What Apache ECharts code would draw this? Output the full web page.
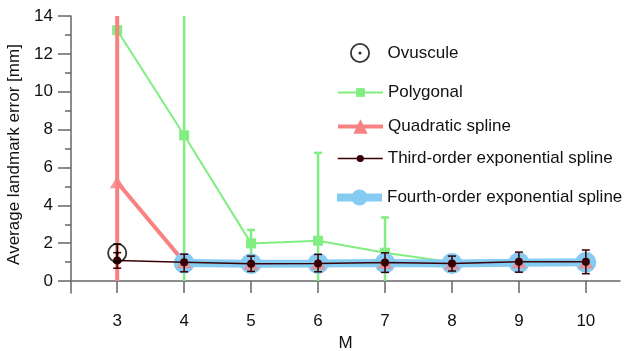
<!DOCTYPE html>
<html>
<head>
<meta charset="utf-8">
<script src="https://cdn.jsdelivr.net/npm/echarts@6/dist/echarts.min.js"></script>
<style>
  html, body { margin: 0; padding: 0; background: #fff; }
  #chart { width: 628px; height: 351px; }
</style>
</head>
<body>
<div id="chart"></div>
<script>
// M values on the x axis
var mValues = [3, 4, 5, 6, 7, 8, 9, 10];
var yMajorTicks = [0, 2, 4, 6, 8, 10, 12, 14];
var yMinorTicks = [1, 3, 5, 7, 9, 11, 13];

// Ovuscule: only M = 3
var ovusculeM = [3];
var ovusculeMean = [1.48];
var ovusculeLow = [1.0];
var ovusculeHigh = [1.95];

var polygonalMean = [13.25, 7.7, 1.99, 2.13, 1.5, 1.0, 1.02, 1.02];
var polygonalLow = [0, 0, 1.3, 0, 0, 0.65, 0.66, 0.66];
var polygonalHigh = [14, 14, 2.7, 6.77, 3.36, 1.35, 1.38, 1.38];

var quadraticMean = [5.22, 1.0, 0.91, 0.93, 0.97, 0.93, 0.99, 0.98];
var quadraticLow = [0, 0.62, 0.55, 0.56, 0.6, 0.57, 0.62, 0.62];
var quadraticHigh = [14, 1.38, 1.27, 1.3, 1.34, 1.29, 1.36, 1.34];

var thirdMean = [1.08, 0.99, 0.91, 0.93, 0.98, 0.93, 1.02, 1.02];
var thirdLow = [0.68, 0.49, 0.51, 0.49, 0.46, 0.53, 0.47, 0.39];
var thirdHigh = [1.5, 1.42, 1.32, 1.41, 1.49, 1.32, 1.53, 1.64];

// fourth order starts at M = 4
var fourthMean = [null, 0.95, 0.92, 0.93, 0.95, 0.93, 0.97, 0.99];

var Y_MIN = -0.63, Y_MAX = 14;
var FONT = "Liberation Sans, Arial, Helvetica, sans-serif";

var green = "#80ee80";
var red = "#f88282";
var blue = "#86cbf2";
var brown = "#380004";

function pairs(xs, ys) {
  var out = [];
  for (var i = 0; i < xs.length; i++) out.push([xs[i], ys[i]]);
  return out;
}
function triples(xs, lo, hi) {
  var out = [];
  for (var i = 0; i < xs.length; i++) out.push([xs[i], lo[i], hi[i]]);
  return out;
}

// vertical error bars, clipped to [0, 14]; caps only at ends that are not clipped
function errorBars(color, width, capW) {
  return function (params, api) {
    var x = api.value(0), lo = api.value(1), hi = api.value(2);
    var lo2 = Math.max(lo, 0), hi2 = Math.min(hi, 14);
    var p1 = api.coord([x, lo2]);
    var p2 = api.coord([x, hi2]);
    var st = { stroke: color, lineWidth: width };
    var kids = [{ type: "line", shape: { x1: p1[0], y1: p1[1], x2: p2[0], y2: p2[1] }, style: st }];
    if (capW > 0 && lo > 0) {
      kids.push({ type: "line", shape: { x1: p1[0] - capW / 2, y1: p1[1], x2: p1[0] + capW / 2, y2: p1[1] }, style: st });
    }
    if (capW > 0 && hi < 14) {
      kids.push({ type: "line", shape: { x1: p2[0] - capW / 2, y1: p2[1], x2: p2[0] + capW / 2, y2: p2[1] }, style: st });
    }
    return { type: "group", children: kids };
  };
}

var ringPath = "path://M0,-10A10,10,0,1,1,0,10A10,10,0,1,1,0,-10Z" +
  "M0,-8.2A8.2,8.2,0,1,0,0,8.2A8.2,8.2,0,1,0,0,-8.2Z" +
  "M0,-1.6A1.6,1.6,0,1,1,0,1.6A1.6,1.6,0,1,1,0,-1.6Z";

var myChart = echarts.init(document.getElementById("chart"));

function legendRow(name, left, top, itemHeight, lineWidth) {
  return {
    data: [{ name: name }],
    left: left,
    top: top,
    orient: "vertical",
    itemWidth: 45,
    itemHeight: itemHeight,
    selectedMode: false,
    padding: 0,
    textStyle: { fontSize: 17, fontFamily: FONT, color: "#111" },
    lineStyle: { width: lineWidth },
  };
}

var option = {
  animation: false,
  backgroundColor: "#fff",
  grid: {
    left: 71,
    right: 8,
    top: 16,
    bottom: 58,
    outerBoundsMode: "none",
  },
  legend: [
    legendRow("Ovuscule", 350, 43, 20, 0),
    legendRow("Polygonal", 337, 84, 11, 2),
    legendRow("Quadratic spline", 336, 118, 18, 4),
    legendRow("Third-order exponential spline", 337, 150, 9, 1.5),
    legendRow("Fourth-order exponential spline", 333, 189, 20, 8),
  ],
  xAxis: {
    type: "value",
    min: 2.31,
    max: 10.51,
    name: "M",
    nameLocation: "middle",
    nameGap: 40,
    nameTextStyle: { fontSize: 17, fontFamily: FONT, color: "#111" },
    splitLine: { show: false },
    axisLine: { lineStyle: { color: "#666", width: 1.5 } },
    axisTick: { customValues: mValues, length: 12, lineStyle: { color: "#666", width: 1.5 } },
    axisLabel: { customValues: mValues, margin: 20, fontSize: 17, fontFamily: FONT, color: "#111" },
  },
  yAxis: [
    {
      type: "value",
      position: "left",
      min: Y_MIN,
      max: Y_MAX,
      name: "Average landmark error [mm]",
      nameLocation: "middle",
      nameGap: 44,
      nameTextStyle: { fontSize: 17, fontFamily: FONT, color: "#111" },
      splitLine: { show: false },
      axisLine: { show: true, lineStyle: { color: "#666", width: 1.5 } },
      axisTick: { customValues: yMajorTicks, length: 13, lineStyle: { color: "#666", width: 1.5 } },
      axisLabel: { customValues: yMajorTicks, margin: 18, fontSize: 17, fontFamily: FONT, color: "#111" },
    },
    {
      type: "value",
      position: "left",
      offset: 0,
      min: Y_MIN,
      max: Y_MAX,
      splitLine: { show: false },
      axisLine: { show: false },
      axisTick: { customValues: yMinorTicks, length: 6, lineStyle: { color: "#666", width: 1.5 } },
      axisLabel: { show: false },
    },
  ],
  series: [
    {
      name: "Polygonal error",
      type: "custom",
      z: 2,
      renderItem: errorBars(green, 2.5, 8),
      data: triples(mValues, polygonalLow, polygonalHigh),
      encode: { x: 0, y: [1, 2] },
    },
    {
      name: "Polygonal",
      type: "line",
      z: 2,
      data: pairs(mValues, polygonalMean),
      color: green,
      lineStyle: { width: 2, color: green },
      symbol: "rect",
      symbolSize: 10,
      itemStyle: { color: green },
    },
    {
      name: "Quadratic spline",
      type: "line",
      z: 3,
      data: pairs(mValues, quadraticMean),
      color: red,
      lineStyle: { width: 4, color: red },
      symbol: "triangle",
      symbolSize: [15, 12],
      showSymbol: false,
      itemStyle: { color: red },
    },
    {
      name: "Quadratic error",
      type: "custom",
      z: 3,
      renderItem: errorBars(red, 4, 0),
      data: triples(mValues, quadraticLow, quadraticHigh),
      encode: { x: 0, y: [1, 2] },
    },
    {
      name: "Fourth-order exponential spline",
      type: "line",
      z: 4,
      data: pairs(mValues, fourthMean),
      color: blue,
      lineStyle: { width: 8, color: blue },
      symbol: "circle",
      symbolSize: 21,
      itemStyle: { color: blue },
    },
    {
      name: "Quadratic markers",
      type: "scatter",
      z: 5,
      data: pairs(mValues, quadraticMean),
      symbol: "triangle",
      symbolSize: [15, 12],
      itemStyle: { color: red },
    },
    {
      name: "Third-order error",
      type: "custom",
      z: 6,
      renderItem: errorBars(brown, 1.5, 8),
      data: triples(mValues, thirdLow, thirdHigh),
      encode: { x: 0, y: [1, 2] },
    },
    {
      name: "Ovuscule error",
      type: "custom",
      z: 6,
      renderItem: errorBars("#000", 1.5, 8),
      data: triples(ovusculeM, ovusculeLow, ovusculeHigh),
      encode: { x: 0, y: [1, 2] },
    },
    {
      name: "Third-order exponential spline",
      type: "line",
      z: 7,
      data: pairs(mValues, thirdMean),
      color: brown,
      lineStyle: { width: 1.5, color: brown },
      symbol: "circle",
      symbolSize: 8,
      itemStyle: { color: brown },
    },
    {
      name: "Ovuscule",
      type: "scatter",
      z: 8,
      data: pairs(ovusculeM, ovusculeMean),
      symbol: ringPath,
      symbolSize: 20,
      itemStyle: { color: "#000" },
    },
  ],
};

myChart.setOption(option);
window.addEventListener("resize", myChart.resize);
</script>
</body>
</html>
